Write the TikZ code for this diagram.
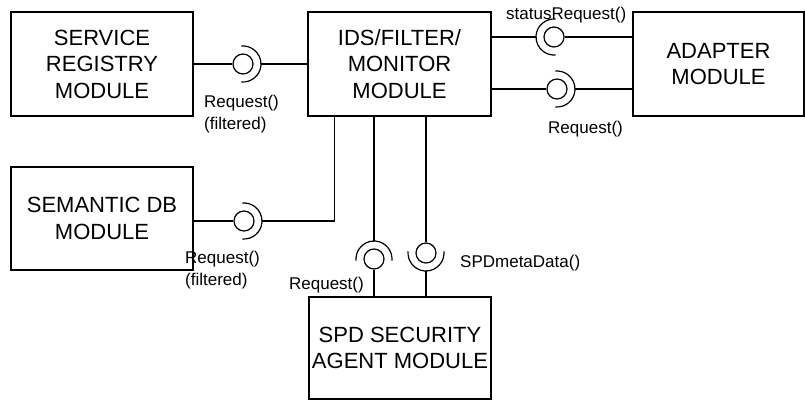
\documentclass[tikz,border=0pt]{standalone}
\usepackage{fontspec}
\setmainfont{Liberation Sans}
\usetikzlibrary{positioning}
\tikzset{module/.style={draw, line width=1.2pt, minimum width=183pt, minimum height=104pt, inner sep=0pt, align=center, font=\fontsize{22}{26.5}\selectfont}}
\tikzset{ball/.style={draw, circle, line width=1.2pt, minimum size=20pt, inner sep=0pt}}
\tikzset{iface/.style={inner sep=0pt, align=left, font=\fontsize{17}{22}\selectfont}}
\tikzset{wire/.style={line width=1.2pt}}
\newcommand\socketarc[3]{\draw[wire] ([shift={(#2:18pt)}]#1.center) arc[start angle=#2, end angle=#3, radius=18pt];}

\begin{document}
\begin{tikzpicture}[x=1pt,y=1pt]
\useasboundingbox (0,0) rectangle (805,-401);
\node[module, minimum width=182pt] (reg) at (102,-64) {SERVICE\\REGISTRY\\MODULE};
\node[module] (ids) at (399.5,-64) {IDS/FILTER/\\MONITOR\\MODULE};
\node[module, minimum width=171pt] (adapter) at (718.5,-64) {ADAPTER\\MODULE};
\node[module, minimum width=182pt, minimum height=103pt] (sem) at (102,-218.5) {SEMANTIC DB\\MODULE};
\node[module, minimum width=182pt, minimum height=102pt] (spd) at (400,-348) {SPD SECURITY\\AGENT MODULE};
% balls and sockets
\node[ball] (b1) at (243,-64) {};
\coordinate (s1) at (261,-64);
\socketarc{b1}{-95}{95}
\node[ball] (b2) at (244,-221) {};
\coordinate (s2) at (262,-221);
\socketarc{b2}{-95}{95}
\node[ball] (b3) at (554,-37) {};
\coordinate (s3) at (536,-37);
\socketarc{b3}{85}{275}
\node[ball] (b4) at (557,-89) {};
\coordinate (s4) at (575,-89);
\socketarc{b4}{-95}{95}
\node[ball] (b5) at (374,-259) {};
\coordinate (s5) at (374,-241);
\socketarc{b5}{-5}{185}
\node[ball] (b6) at (426,-253) {};
\coordinate (s6) at (426,-271);
\socketarc{b6}{175}{365}
% wires
\draw[wire] (reg) -- (b1);
\draw[wire] (s1) -- (ids);
\draw[wire] (sem.east |- b2) -- (b2);
\draw[wire] (s2) -| ([xshift=27pt]ids.south west);
\draw[wire] (ids.east |- s3) -- (s3);
\draw[wire] (b3) -- (adapter.west |- b3);
\draw[wire] (ids.east |- b4) -- (b4);
\draw[wire] (s4) -- (adapter.west |- s4);
\draw[wire] (ids.south -| s5) -- (s5);
\draw[wire] (b5) -- (spd.north -| b5);
\draw[wire] (ids.south -| b6) -- (b6);
\draw[wire] (s6) -- (spd.north -| s6);
% labels
\node[iface, anchor=north west] (l1) at (204,-95) {Request()\\(filtered)};
\node[iface, anchor=north west] (l2) at (185,-251) {Request()\\(filtered)};
\node[iface, anchor=west] (l3) at (506,-15) {statusRequest()};
\node[iface, anchor=west] (l4) at (548,-129) {Request()};
\node[iface, anchor=east] (l5) at (364,-285) {Request()};
\node[iface, anchor=west] (l6) at (460,-263) {SPDmetaData()};
\end{tikzpicture}
\end{document}
